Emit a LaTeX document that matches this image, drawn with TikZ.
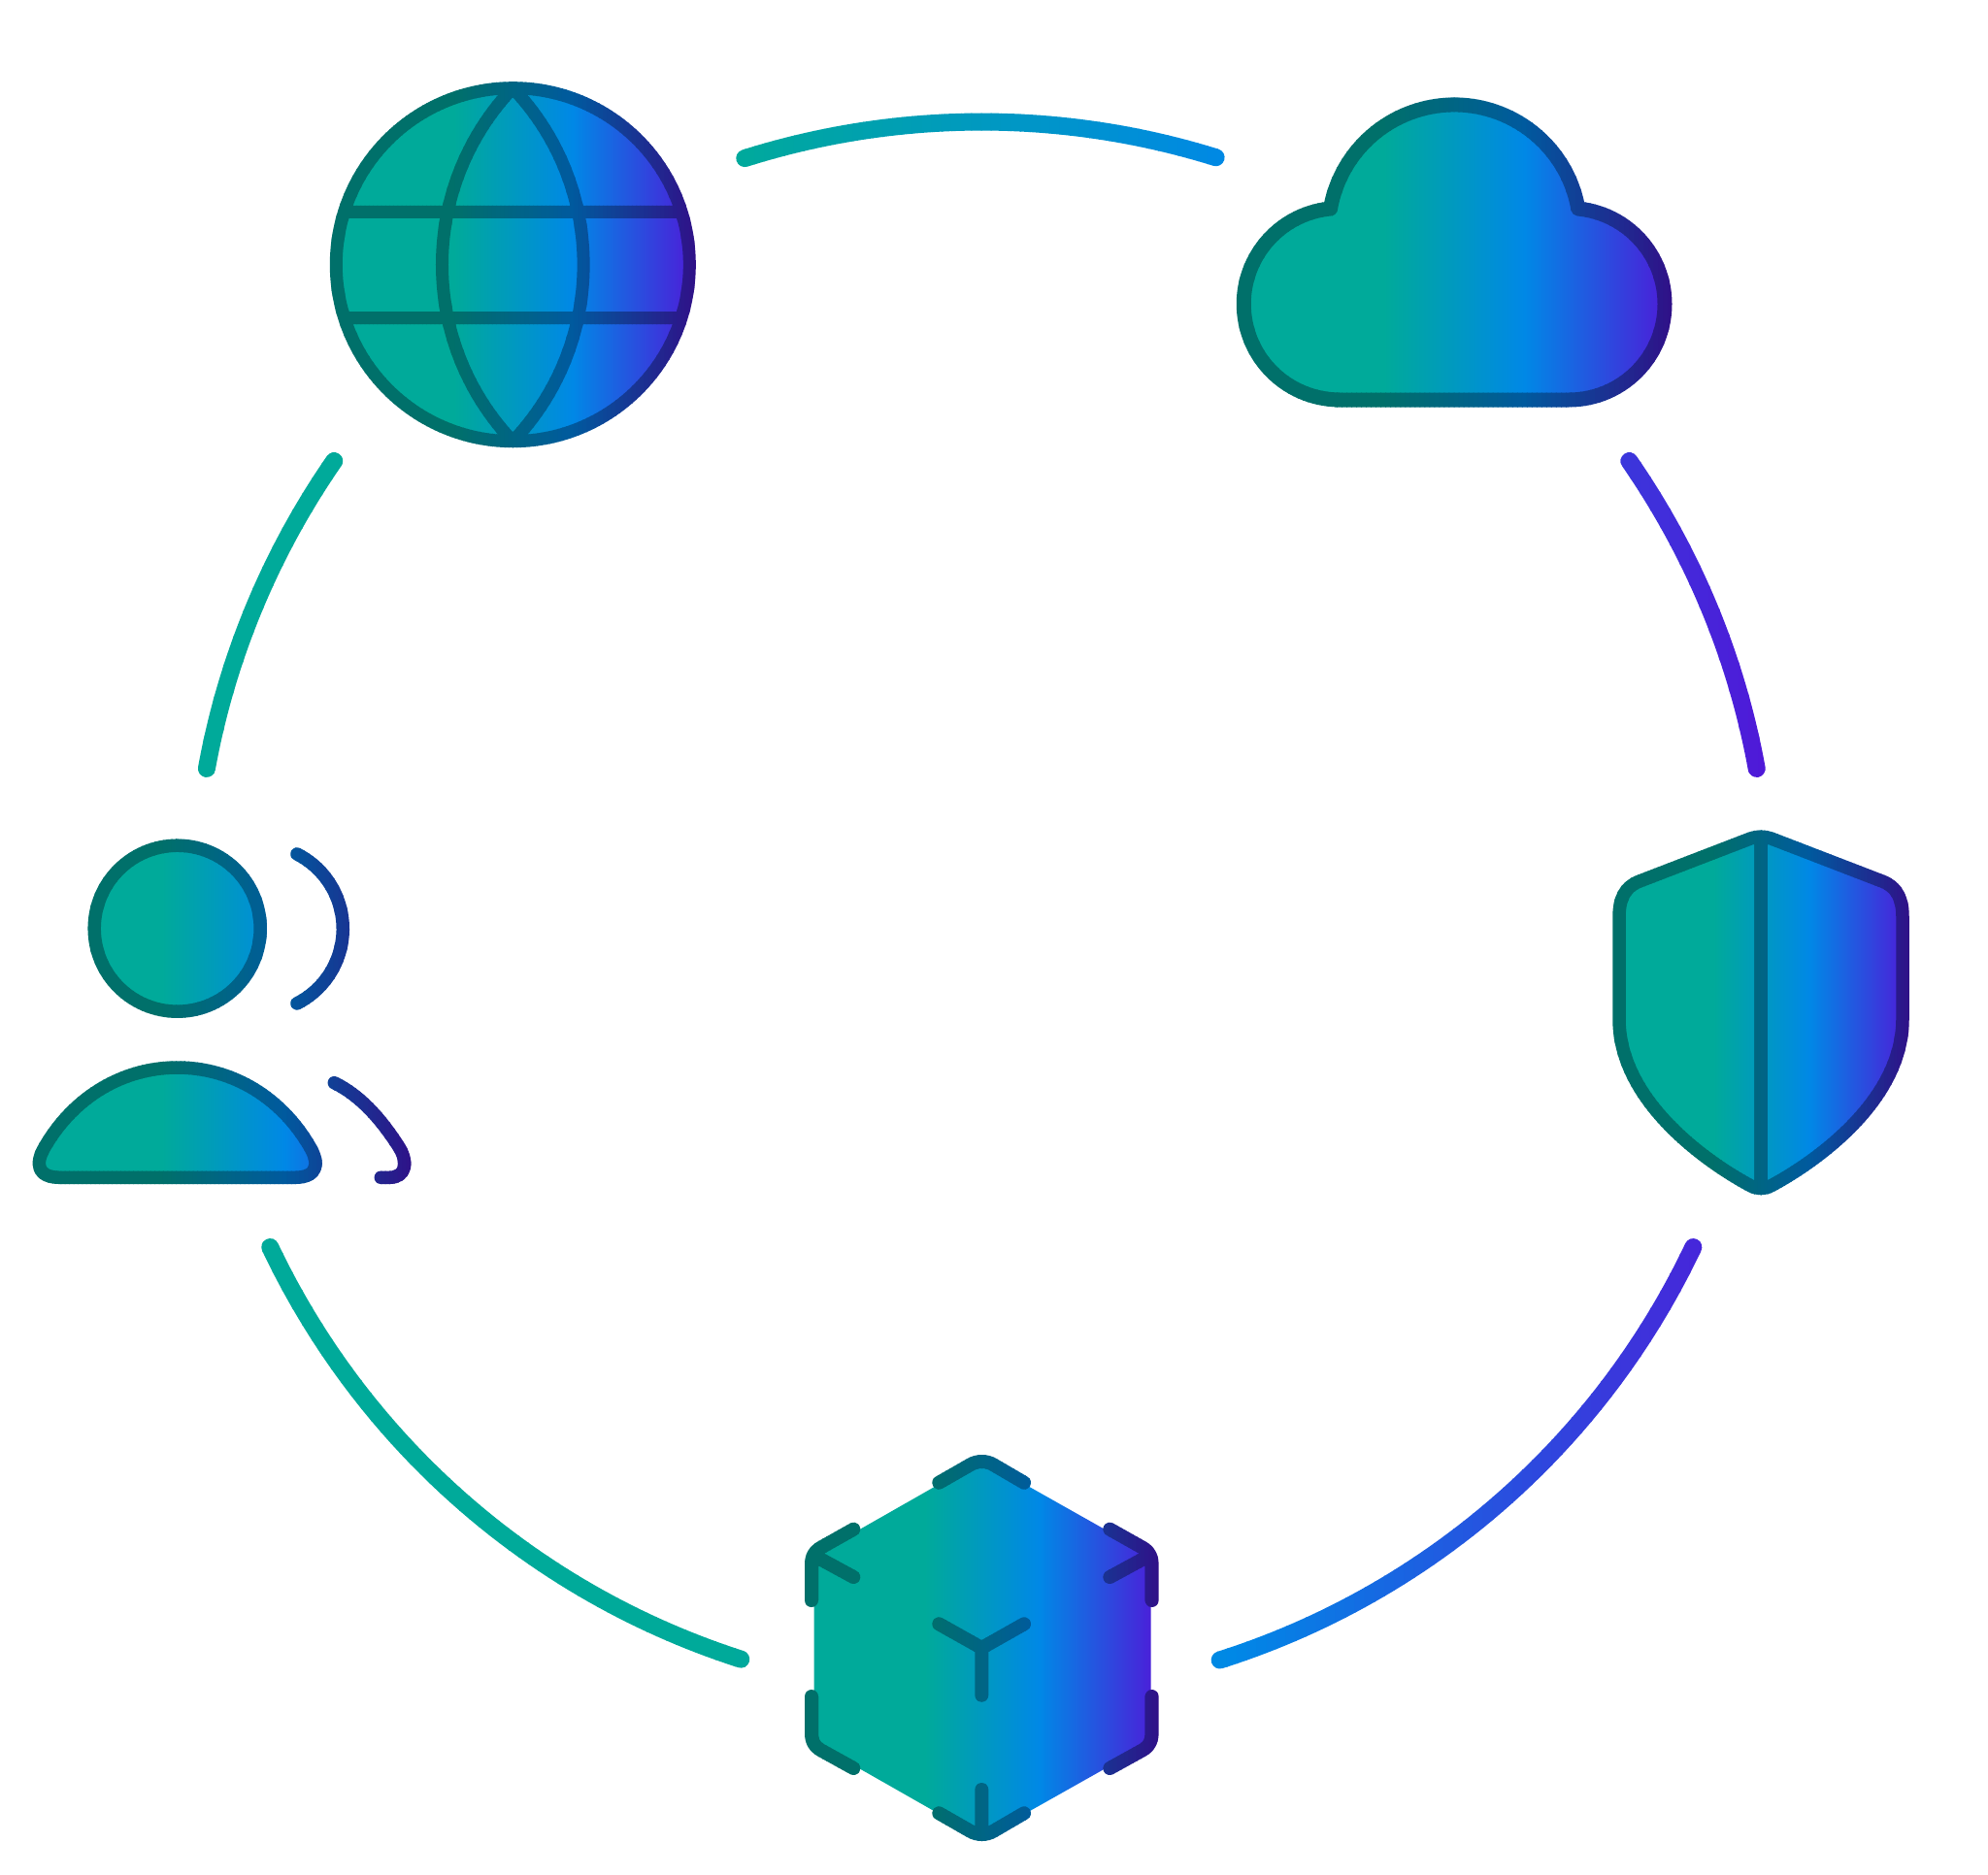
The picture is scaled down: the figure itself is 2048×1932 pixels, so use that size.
\documentclass[tikz,border=0pt]{standalone}
\usepackage{tikz}
\definecolor{fillA}{HTML}{00AA9A}
\definecolor{fillB}{HTML}{0088E6}
\definecolor{fillC}{HTML}{5018D8}
\definecolor{inkA}{HTML}{00706A}
\definecolor{inkB}{HTML}{005A9E}
\definecolor{inkC}{HTML}{301088}
\pgfdeclarehorizontalshading{iconfill}{100bp}{color(0bp)=(fillA); color(42bp)=(fillA); color(58bp)=(fillB); color(75bp)=(fillC); color(100bp)=(fillC)}
\tikzset{inkline/.style={line cap=round,line join=round}}
\newcommand{\shaded}[3]{%
\begin{scope}
\clip #3;
\shade[shading=iconfill] (#1,0) rectangle (#2,1932);
\end{scope}}
\newcommand{\strips}[6]{%
\foreach \k in {1,...,#2}{%
\pgfmathsetmacro{\t}{(\k-.5)/#2}
\pgfmathsetmacro{\xa}{#4+(#5-#4)/#2*(\k-1)-.5}
\pgfmathsetmacro{\xb}{#4+(#5-#4)/#2*\k+.5}
\pgfmathsetmacro{\pa}{min(100,max(0,(\t-.34)/.32*100))}
\pgfmathsetmacro{\pb}{min(100,max(0,(\t-.66)/.34*100))}
\colorlet{stripcol}{#1B!\pa!#1A}
\ifdim\t pt>.66pt \colorlet{stripcol}{#1C!\pb!#1B}\fi
\begin{scope}
\clip (\xa,0) rectangle (\xb,1932);
\draw[inkline,draw=stripcol,line width=#3pt] #6;
\end{scope}}}
\begin{document}
\begin{tikzpicture}[x=1pt,y=-1pt]
\useasboundingbox (0,0) rectangle (2048,1932);
\strips{fill}{160}{18}{200}{1822}{[shift={(1011.3,937)}]
(-72.7:811.5) arc[start angle=-72.7,end angle=-107.5,radius=811.5]
(-10.3:811.5) arc[start angle=-10.3,end angle=-34.7,radius=811.5]
(-145.3:811.5) arc[start angle=-145.3,end angle=-169.7,radius=811.5]
(154.6:811.5) arc[start angle=154.6,end angle=107.8,radius=811.5]
(72.4:811.5) arc[start angle=72.4,end angle=25.4,radius=811.5]}
\shaded{338}{719}{(528.3,272.7) circle[radius=182]}
\strips{ink}{90}{13}{338}{719}{(528.3,272.7) circle[radius=182]
(360,218.3) -- (697,218.3) (360,327.7) -- (697,327.7)
(528.3,90.7) arc[start angle=223.6,end angle=136.4,radius=264]
(528.3,90.7) arc[start angle=-43.6,end angle=43.6,radius=264]}
\shaded{1272}{1724}{(1375,412) -- (1616.3,412) arc[start angle=90,end angle=-84.5,radius=98.7] arc[start angle=350,end angle=190,radius=129.6] -- (1370.5,215) arc[start angle=264.5,end angle=90,radius=98.7] -- cycle}
\strips{ink}{90}{15}{1272}{1724}{(1375,412) -- (1616.3,412) arc[start angle=90,end angle=-84.5,radius=98.7] arc[start angle=350,end angle=190,radius=129.6] -- (1370.5,215) arc[start angle=264.5,end angle=90,radius=98.7] -- cycle}
\shaded{32}{428}{(182.7,956.7) circle[radius=85.5] (62,1213.3) .. controls (38,1213.3) and (36,1199) .. (46,1182) .. controls (76,1130) and (127,1100) .. (182.7,1100) .. controls (238.4,1100) and (289.4,1130) .. (319.4,1182) .. controls (329.4,1199) and (327.4,1213.3) .. (303.3,1213.3) -- cycle}
\strips{ink}{90}{13.5}{32}{428}{(182.7,956.7) circle[radius=85.5] (62,1213.3) .. controls (38,1213.3) and (36,1199) .. (46,1182) .. controls (76,1130) and (127,1100) .. (182.7,1100) .. controls (238.4,1100) and (289.4,1130) .. (319.4,1182) .. controls (329.4,1199) and (327.4,1213.3) .. (303.3,1213.3) -- cycle
(306,880) arc[start angle=-63.1,end angle=63.1,radius=86.3]
(344.3,1115.7) .. controls (372,1129) and (394,1155) .. (411.7,1183) .. controls (420,1197) and (419,1213.3) .. (401,1213.3) -- (392.3,1213.3)}
\shaded{1660}{1969}{(1803.3,864) -- (1688.3,908.3) .. controls (1674,914) and (1668,926) .. (1668,945) -- (1668,1050) .. controls (1668,1140) and (1770,1204) .. (1803.3,1221.7) .. controls (1810,1225.5) and (1818,1225.5) .. (1824.7,1221.7) .. controls (1858,1204) and (1960,1140) .. (1960,1050) -- (1960,945) .. controls (1960,926) and (1954,914) .. (1939.7,908.3) -- (1824.7,864) .. controls (1818,861.5) and (1810,861.5) .. (1803.3,864) -- cycle}
\strips{ink}{90}{13.5}{1660}{1969}{(1803.3,864) -- (1688.3,908.3) .. controls (1674,914) and (1668,926) .. (1668,945) -- (1668,1050) .. controls (1668,1140) and (1770,1204) .. (1803.3,1221.7) .. controls (1810,1225.5) and (1818,1225.5) .. (1824.7,1221.7) .. controls (1858,1204) and (1960,1140) .. (1960,1050) -- (1960,945) .. controls (1960,926) and (1954,914) .. (1939.7,908.3) -- (1824.7,864) .. controls (1818,861.5) and (1810,861.5) .. (1803.3,864) -- cycle
(1814,862) -- (1814,1224)}
\shaded{827}{1196}{(1011.3,1504.3) -- (1185.7,1602.7) -- (1185.7,1795.7) -- (1011.3,1894) -- (838.7,1795.7) -- (838.7,1602.7) -- cycle}
\strips{ink}{90}{14}{827}{1196}{(967.3,1527.7) -- (1000,1509) .. controls (1007,1505) and (1016,1505) .. (1023,1509) -- (1055,1527.7)
(967.3,1868.3) -- (1000,1887) .. controls (1007,1891) and (1016,1891) .. (1023,1887) -- (1055,1868.3)
(1011.3,1844) -- (1011.3,1889)
(879.3,1575.7) -- (845,1595) .. controls (839,1598.5) and (836,1604) .. (836,1611.7) -- (836,1649)
(879.3,1625) -- (838.3,1602.7)
(1143.3,1575.7) -- (1177.6,1595) .. controls (1183.6,1598.5) and (1186.6,1604) .. (1186.6,1611.7) -- (1186.6,1649)
(1143.3,1625) -- (1184.3,1602.7)
(836,1748) -- (836,1786) .. controls (836,1794) and (839,1799.5) .. (845,1803) -- (879.3,1822)
(1186.6,1748) -- (1186.6,1786) .. controls (1186.6,1794) and (1183.6,1799.5) .. (1177.6,1803) -- (1143.3,1822)
(967.3,1673.3) -- (1011.3,1698) -- (1055,1673.3)
(1011.3,1698) -- (1011.3,1746.7)}
\end{tikzpicture}
\end{document}
